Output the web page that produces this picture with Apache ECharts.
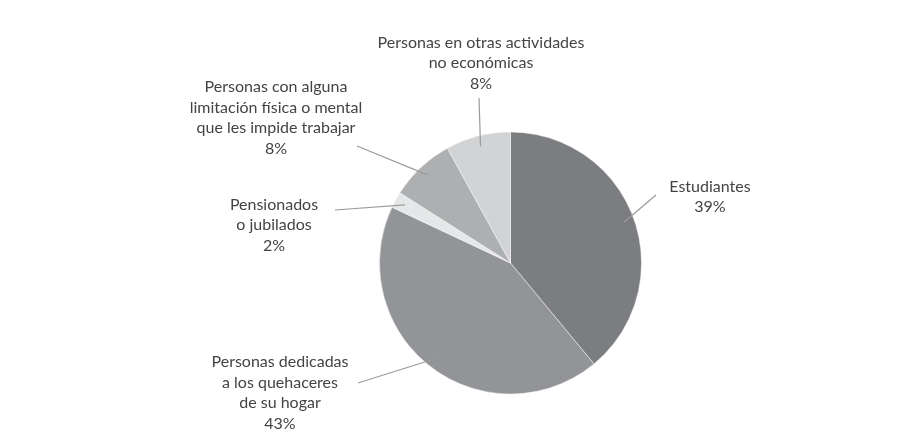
<!DOCTYPE html>
<html>
<head>
<meta charset="utf-8">
<script src="https://cdn.jsdelivr.net/npm/echarts@6/dist/echarts.min.js"></script>
<style>
  html, body { margin: 0; padding: 0; background: #fff; }
  #chart { width: 921px; height: 448px; }
</style>
</head>
<body>
<div id="chart"></div>
<script>
// categories and shares (%), clockwise from 12 o'clock
const categories = [
  "Estudiantes",
  "Personas dedicadas\na los quehaceres\nde su hogar",
  "Pensionados\no jubilados",
  "Personas con alguna\nlimitación física o mental\nque les impide trabajar",
  "Personas en otras actividades\nno económicas"
];
const shares = [39, 43, 2, 8, 8];
const colors = ["#7c7d80", "#939497", "#e6e7e8", "#aeafb1", "#d2d3d5"];

// where each label sits and where its leader line ends (layout only)
const labelPos = [[710, 197], [280, 393], [274, 225], [276, 118], [481, 63]];
const lineEnd = [[656, 195], [358, 383], [335, 210], [357, 146], [479, 98]];

const cx = 510.5, cy = 263, R = 131;
const total = shares.reduce((a, b) => a + b, 0);
const midAngles = [];
let acc = 0;
shares.forEach(v => {
  midAngles.push((acc + v / 2) / total * 2 * Math.PI);
  acc += v;
});

const chart = echarts.init(document.getElementById("chart"));
chart.setOption({
  animation: false,
  series: [{
    // the slices
    type: "pie",
    center: [cx, cy],
    radius: R,
    startAngle: 90,
    clockwise: true,
    silent: true,
    itemStyle: { borderColor: "#f4f4f4", borderWidth: 0.5 },
    label: { show: false },
    labelLine: { show: false },
    data: categories.map((c, i) => ({
      name: c,
      value: shares[i],
      itemStyle: { color: colors[i] }
    }))
  }, {
    // transparent copy on top, so the leader lines show inside the slices
    type: "pie",
    z: 3,
    center: [cx, cy],
    radius: R,
    startAngle: 90,
    clockwise: true,
    silent: true,
    avoidLabelOverlap: false,
    itemStyle: { color: "rgba(0,0,0,0)", borderWidth: 0 },
    label: {
      show: true,
      formatter: "{b}\n{d}%",
      fontFamily: "Lato",
      fontSize: 16,
      lineHeight: 20.5,
      color: "#444444",
      align: "center"
    },
    labelLine: {
      show: true,
      length: 20,
      length2: 0,
      lineStyle: { color: "#9b9b9b", width: 1.2 }
    },
    labelLayout: function (params) {
      const i = params.dataIndex;
      const a = midAngles[i];
      const start = [cx + 0.92 * R * Math.sin(a), cy - 0.92 * R * Math.cos(a)];
      return {
        x: labelPos[i][0],
        y: labelPos[i][1],
        align: "center",
        verticalAlign: "middle",
        labelLinePoints: [start, lineEnd[i], lineEnd[i]]
      };
    },
    data: categories.map((c, i) => ({ name: c, value: shares[i] }))
  }]
});
</script>
</body>
</html>
